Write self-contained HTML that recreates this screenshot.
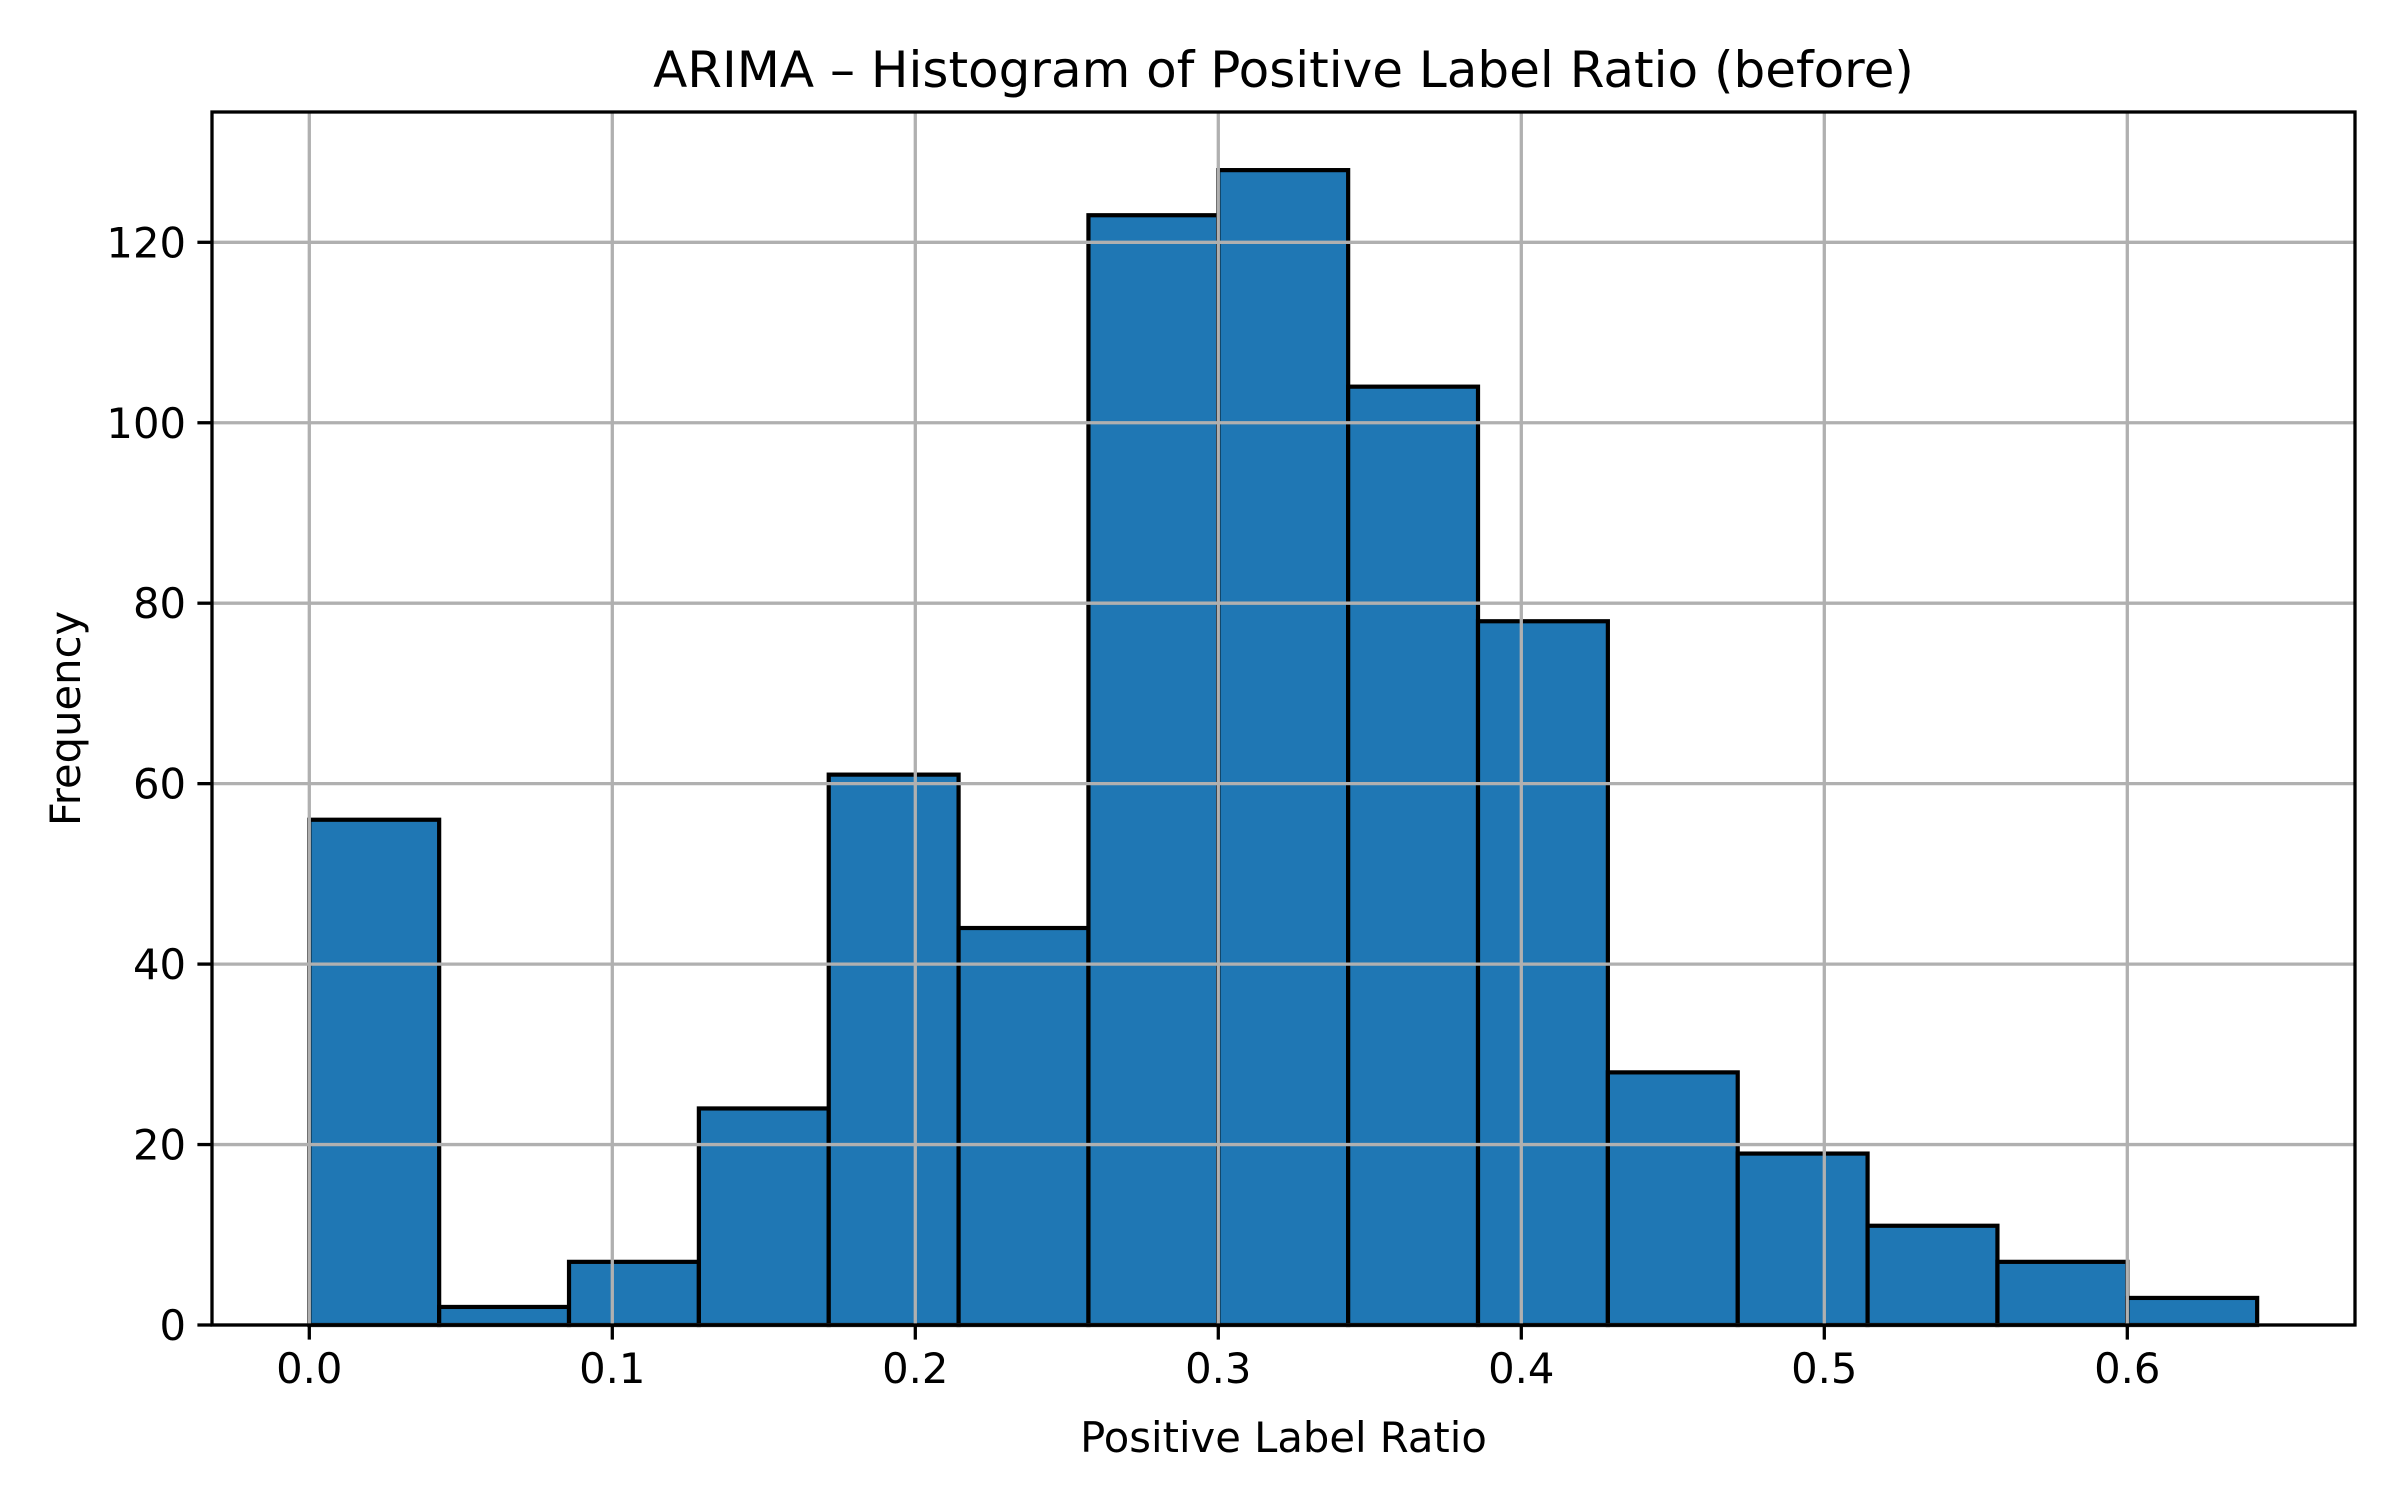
<!DOCTYPE html>
<html><head><meta charset="utf-8"><style>
html,body{margin:0;padding:0;background:#fff;}
svg{display:block;font-family:"DejaVu Sans","Liberation Sans",sans-serif;}
</style></head><body>
<svg id="chart" width="2400" height="1500" viewBox="0 0 2400 1500">
<rect width="2400" height="1500" fill="#fff"/>
<g id="bars"></g>
<g id="grid"></g>
<g id="axes"></g>
<text x="1283.5" y="87" font-size="50" text-anchor="middle">ARIMA – Histogram of Positive Label Ratio (before)</text>
<text x="1283.5" y="1452" font-size="41.7" text-anchor="middle">Positive Label Ratio</text>
<text x="0" y="0" font-size="41.7" text-anchor="middle" transform="translate(80,718.5) rotate(-90)">Frequency</text>
</svg>
<script>
const counts = [56, 2, 7, 24, 61, 44, 123, 128, 104, 78, 28, 19, 11, 7, 3];
const binStart = 0;
const binEnd = 9/14;
const xTicks = [0.0, 0.1, 0.2, 0.3, 0.4, 0.5, 0.6];
const xTickLabels = ["0.0", "0.1", "0.2", "0.3", "0.4", "0.5", "0.6"];
const yTicks = [0, 20, 40, 60, 80, 100, 120];
const yTickLabels = ["0", "20", "40", "60", "80", "100", "120"];

const L = 212, R = 2355, T = 112, B = 1325;
const x0px = 309.3, pxPerUnit = 3030;
const sx = v => x0px + v * pxPerUnit;
const sy = v => B - v * (1082.7 / 120);
const NS = "http://www.w3.org/2000/svg";
function mk(tag, attrs, parent) {
  const e = document.createElementNS(NS, tag);
  for (const k in attrs) e.setAttribute(k, attrs[k]);
  parent.appendChild(e);
  return e;
}
const grid = document.getElementById('grid');
const bars = document.getElementById('bars');
const axes = document.getElementById('axes');

xTicks.forEach((t, i) => {
  const g = mk('line', {x1: sx(t), x2: sx(t), y1: T, y2: B, stroke: '#b0b0b0', 'stroke-width': 3.3}, grid);
  
  
  const tk = mk('line', {x1: sx(t), x2: sx(t), y1: B, y2: B + 14.6, stroke: '#000', 'stroke-width': 3.3}, axes);
  
  
  const lb = mk('text', {x: sx(t), y: B + 58, 'font-size': 41.7, 'text-anchor': 'middle'}, axes);
  lb.textContent = xTickLabels[i];
  
  
});
yTicks.forEach((t, i) => {
  const g = mk('line', {x1: L, x2: R, y1: sy(t), y2: sy(t), stroke: '#b0b0b0', 'stroke-width': 3.3}, grid);
  
  
  const tk = mk('line', {x1: L - 14.6, x2: L, y1: sy(t), y2: sy(t), stroke: '#000', 'stroke-width': 3.3}, axes);
  
  
  const lb = mk('text', {x: L - 26, y: sy(t) + 15, 'font-size': 41.7, 'text-anchor': 'end'}, axes);
  lb.textContent = yTickLabels[i];
  
  
});
const bw = (binEnd - binStart) / counts.length;
counts.forEach((c, i) => {
  const a = sx(binStart + i * bw), b = sx(binStart + (i + 1) * bw);
  const r = mk('rect', {x: a, y: sy(c), width: b - a, height: sy(0) - sy(c), fill: '#1f77b4', stroke: '#000', 'stroke-width': 4.2}, bars);
  
  
});
const frame = mk('rect', {x: L, y: T, width: R - L, height: B - T, fill: 'none', stroke: '#000', 'stroke-width': 3.3}, axes);


</script>
</body></html>
